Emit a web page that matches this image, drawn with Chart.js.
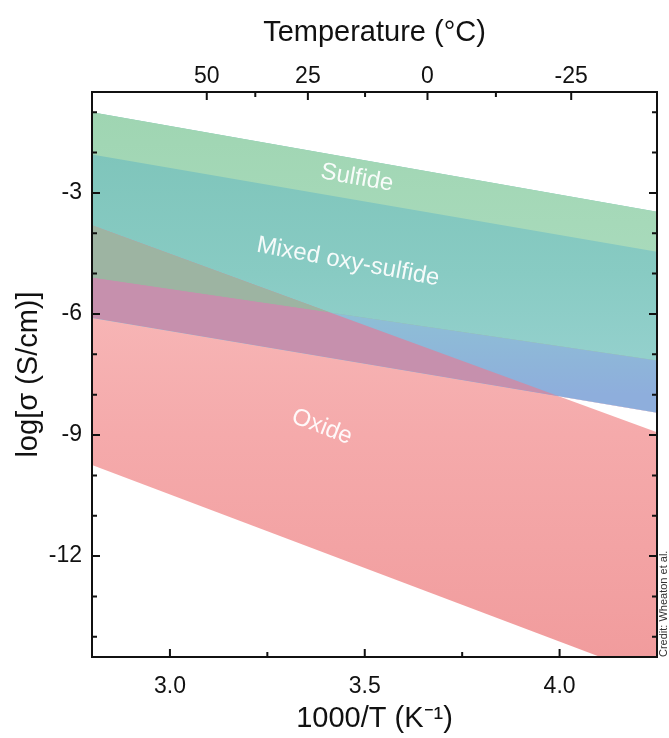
<!DOCTYPE html>
<html>
<head>
<meta charset="utf-8">
<script src="https://cdn.jsdelivr.net/npm/chart.js@4.4.1/dist/chart.umd.min.js"></script>
<style>
  html, body { margin: 0; padding: 0; background: #fff; }
  canvas { display: block; }
</style>
</head>
<body>
<canvas id="chart" width="669" height="738"></canvas>
<script>
// band edges, read at both ends of the 1000/T axis
const xEnds = [2.8, 4.25];
const sulfideTop = [-1.0, -3.47];
const sulfideBottom = [-2.05, -4.46];
const mixedSplit = [-5.1, -7.15];
const mixedBottom = [-6.1, -8.45];
const oxideTop = [-3.8, -8.93];
const oxideBottom = [-9.74, -15.03];

// axis ticks
const xTicks = [3.0, 3.5, 4.0];
const xMinor = [3.25, 3.75];
const yTicks = [-3, -6, -9, -12];
const yMinor = [-1, -2, -4, -5, -7, -8, -10, -11, -13, -14];
const tempTicks = [50, 25, 0, -25];
const tempMinor = [37.5, 12.5, -12.5];

const bandLabels = [
  { text: "Sulfide", x: 3.48, y: -2.63, angle: 10 },
  { text: "Mixed oxy-sulfide", x: 3.457, y: -4.71, angle: 10.5 },
  { text: "Oxide", x: 3.39, y: -8.8, angle: 21 },
];

const FONT = "'Liberation Sans', Arial, sans-serif";
const invT = (t) => 1000 / (t + 273.15);
const pts = (arr) => xEnds.map((x, i) => ({ x: x, y: arr[i] }));

// gradient helper, stops given as [y value, colour]
function vgrad(stops) {
  return (c) => {
    const area = c.chart.chartArea;
    if (!area) return stops[0][1];
    const y = c.chart.scales.y;
    const g = c.chart.ctx.createLinearGradient(0, area.top, 0, area.bottom);
    stops.forEach(([v, col]) => {
      const p = (y.getPixelForValue(v) - area.top) / area.height;
      g.addColorStop(Math.min(1, Math.max(0, p)), col);
    });
    return g;
  };
}

function line(arr, fill, bg, order) {
  return {
    data: pts(arr),
    borderWidth: 0,
    borderColor: "rgba(0,0,0,0)",
    pointRadius: 0,
    fill: fill,
    backgroundColor: bg,
    order: order,
  };
}

// 0..5 are the plain edges, the rest carry the fills
// lower layers run under the upper ones so no seams show
const datasets = [
  line(sulfideTop, false, null, 20),
  line(sulfideBottom, false, null, 20),
  line(mixedSplit, false, null, 20),
  line(mixedBottom, false, null, 20),
  line(oxideTop, false, null, 20),
  line(oxideBottom, false, null, 20),
  // oxide
  line(oxideTop, { target: 5 }, vgrad([[-4, "#f8bcbc"], [-9, "#f5aaab"], [-14.5, "#f19c9d"]]), 10),
  // mixed, lower (blue) part
  line(sulfideBottom, { target: 3 }, vgrad([[-5.5, "#8ec3d4"], [-8, "#8eaedc"]]), 9),
  // mixed, upper (teal) part
  line(sulfideTop, { target: 2 }, vgrad([[-2, "#7fc5bb"], [-5, "#88cbc3"], [-7, "#93d0cc"]]), 8),
  // oxide under the blue part
  line(oxideTop, { target: 3, above: "#c690ad", below: "rgba(0,0,0,0)" }, null, 7),
  // oxide under the teal part
  line(oxideTop, { target: 2, above: "#9db4a2", below: "rgba(0,0,0,0)" }, null, 6),
  // sulfide
  line(sulfideTop, { target: 1 }, vgrad([[-1, "#9fd5b2"], [-4.5, "#a8dabb"]]), 5),
];

const frame = {
  id: "frame",
  afterDatasetsDraw(chart) {
    const { ctx, chartArea: a, scales } = chart;
    ctx.save();
    // labels in the bands
    ctx.fillStyle = "rgba(255,255,255,0.92)";
    ctx.font = "24px " + FONT;
    ctx.textAlign = "center";
    ctx.textBaseline = "middle";
    bandLabels.forEach((l) => {
      ctx.save();
      ctx.translate(scales.x.getPixelForValue(l.x), scales.y.getPixelForValue(l.y));
      ctx.rotate((l.angle * Math.PI) / 180);
      ctx.fillText(l.text, 0, 0);
      ctx.restore();
    });

    // inward ticks
    ctx.strokeStyle = "#111";
    ctx.lineWidth = 2;
    ctx.beginPath();
    const seg = (x1, y1, x2, y2) => { ctx.moveTo(x1, y1); ctx.lineTo(x2, y2); };
    const bx = (vals, len) => vals.forEach((v) => {
      const p = scales.x.getPixelForValue(v);
      seg(p, a.bottom, p, a.bottom - len);
    });
    const tx = (vals, len) => vals.forEach((v) => {
      const p = scales.x2.getPixelForValue(invT(v));
      seg(p, a.top, p, a.top + len);
    });
    const ly = (vals, len) => vals.forEach((v) => {
      const p = scales.y.getPixelForValue(v);
      seg(a.left, p, a.left + len, p);
      seg(a.right, p, a.right - len, p);
    });
    bx(xTicks, 8); bx(xMinor, 5);
    tx(tempTicks, 8); tx(tempMinor, 5);
    ly(yTicks, 8); ly(yMinor, 5);
    ctx.stroke();
    ctx.strokeRect(a.left, a.top, a.width, a.height);

    // credit
    ctx.fillStyle = "#333";
    ctx.font = "11px " + FONT;
    ctx.textAlign = "left";
    ctx.textBaseline = "middle";
    ctx.translate(664, a.bottom);
    ctx.rotate(-Math.PI / 2);
    ctx.fillText("Credit: Wheaton et al.", 0, 0);
    ctx.restore();
  },
};

const tickFont = { family: FONT, size: 23 };
const titleFont = { family: FONT, size: 29 };

new Chart(document.getElementById("chart"), {
  type: "line",
  data: { datasets: datasets },
  options: {
    responsive: false,
    animation: false,
    layout: { padding: { left: 0, right: 12, top: 0, bottom: 0 } },
    plugins: {
      legend: { display: false },
      tooltip: { enabled: false },
      filler: { propagate: false },
    },
    scales: {
      x: {
        type: "linear",
        position: "bottom",
        min: 2.8,
        max: 4.25,
        grid: { display: false, drawTicks: false },
        border: { display: false },
        afterBuildTicks: (s) => { s.ticks = xTicks.map((v) => ({ value: v })); },
        afterFit: (s) => { s.height = 81; },
        ticks: {
          color: "#111",
          font: tickFont,
          padding: 16,
          maxRotation: 0,
          callback: (v) => v.toFixed(1),
        },
        title: {
          display: true,
          text: "1000/T (K\u207B\u00B9)",
          color: "#111",
          font: titleFont,
          padding: { top: 0, bottom: 2 },
        },
      },
      x2: {
        type: "linear",
        position: "top",
        min: 2.8,
        max: 4.25,
        grid: { display: false, drawTicks: false },
        border: { display: false },
        afterBuildTicks: (s) => { s.ticks = tempTicks.map((t) => ({ value: invT(t) })); },
        afterFit: (s) => { s.height = 92; },
        ticks: {
          color: "#111",
          font: tickFont,
          padding: 2,
          maxRotation: 0,
          callback: (v) => String(Math.round(1000 / v - 273.15)),
        },
        title: {
          display: true,
          text: "Temperature (\u00B0C)",
          color: "#111",
          font: titleFont,
          padding: { top: 16, bottom: 0 },
        },
      },
      y: {
        type: "linear",
        position: "left",
        min: -14.5,
        max: -0.5,
        grid: { display: false, drawTicks: false },
        border: { display: false },
        afterBuildTicks: (s) => { s.ticks = yTicks.map((v) => ({ value: v })); },
        afterFit: (s) => { s.width = 92; },
        ticks: {
          color: "#111",
          font: tickFont,
          padding: 10,
          callback: (v) => String(v),
        },
        title: {
          display: true,
          text: "log[\u03C3 (S/cm)]",
          color: "#111",
          font: titleFont,
          padding: { top: 12, bottom: 0 },
        },
      },
    },
  },
  plugins: [frame],
});
</script>
</body>
</html>
